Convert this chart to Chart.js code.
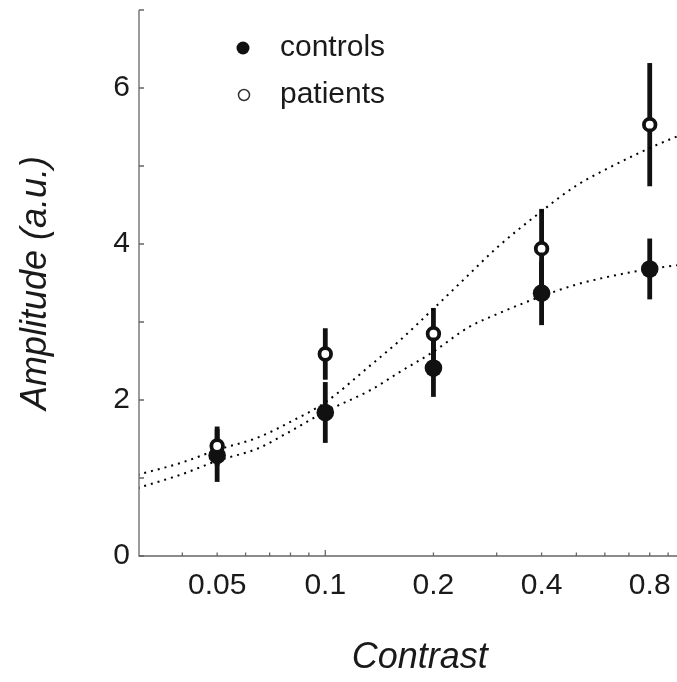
<!DOCTYPE html>
<html>
<head>
<meta charset="utf-8">
<script src="https://cdn.jsdelivr.net/npm/chart.js@4.4.1/dist/chart.umd.min.js"></script>
<style>
    html, body { margin: 0; padding: 0; background: #fff; overflow: hidden; }
    #wrap { width: 677px; height: 682px; overflow: hidden; }
</style>
</head>
<body>
<div id="wrap"><canvas id="ampChart" width="710" height="682"></canvas></div>
<script>
// measured points
const contrasts = [0.05, 0.1, 0.2, 0.4, 0.8];
const controlsMean = [1.29, 1.84, 2.41, 3.37, 3.68];
const controlsErr = [0.34, 0.39, 0.37, 0.41, 0.39];
const patientsMean = [1.41, 2.59, 2.85, 3.94, 5.53];
const patientsErr = [0.25, 0.33, 0.33, 0.51, 0.79];

// fitted curves
const fitContrast = [0.03, 0.04, 0.05, 0.065, 0.08, 0.1, 0.134, 0.16, 0.2, 0.25, 0.3, 0.4, 0.5, 0.6, 0.8, 1.0];
const controlsFit = [0.87, 1.05, 1.22, 1.38, 1.6, 1.85, 2.13, 2.35, 2.62, 2.93, 3.1, 3.33, 3.48, 3.57, 3.68, 3.74];
const patientsFit = [1.04, 1.2, 1.36, 1.52, 1.72, 1.97, 2.45, 2.75, 3.17, 3.6, 3.95, 4.42, 4.75, 4.95, 5.23, 5.42];

// axis ticks
const xTickLabels = [0.05, 0.1, 0.2, 0.4, 0.8];
const yTickLabels = [0, 2, 4, 6];
const xTickMarks = [0.04, 0.05, 0.06, 0.07, 0.08, 0.09, 0.1, 0.2, 0.3, 0.4, 0.5, 0.6, 0.7, 0.8, 0.9, 1];
const xMajorMarks = [0.1, 1];
const yTickMarks = [0, 1, 2, 3, 4, 5, 6, 7];

const seriesLabels = ["controls", "patients"];

const toPoints = (xs, ys) => xs.map((v, i) => ({ x: v, y: ys[i] }));

// draws the axis lines with inward ticks and the error bars
const matlabAxes = {
    id: "matlabAxes",
    beforeDatasetsDraw(chart) {
        const { ctx, chartArea, scales: { x, y } } = chart;
        ctx.save();
        ctx.strokeStyle = "#666";
        ctx.lineWidth = 1.3;
        ctx.beginPath();
        ctx.moveTo(chartArea.left, y.getPixelForValue(7));
        ctx.lineTo(chartArea.left, chartArea.bottom);
        ctx.lineTo(chartArea.right, chartArea.bottom);
        ctx.stroke();
        ctx.beginPath();
        yTickMarks.forEach(v => {
            const py = y.getPixelForValue(v);
            ctx.moveTo(chartArea.left, py);
            ctx.lineTo(chartArea.left + 5, py);
        });
        xTickMarks.forEach(v => {
            const px = x.getPixelForValue(v);
            const len = xMajorMarks.includes(v) ? 6 : 3.5;
            ctx.moveTo(px, chartArea.bottom);
            ctx.lineTo(px, chartArea.bottom - len);
        });
        ctx.stroke();

        ctx.strokeStyle = "#111";
        ctx.lineWidth = 4.8;
        [[controlsMean, controlsErr], [patientsMean, patientsErr]].forEach(([m, e]) => {
            contrasts.forEach((c, i) => {
                const px = x.getPixelForValue(c);
                ctx.beginPath();
                ctx.moveTo(px, y.getPixelForValue(m[i] - e[i]));
                ctx.lineTo(px, y.getPixelForValue(m[i] + e[i]));
                ctx.stroke();
            });
        });
        ctx.restore();
    }
};

// legend in the upper left of the plot
const cornerLegend = {
    id: "cornerLegend",
    afterDraw(chart) {
        const { ctx } = chart;
        ctx.save();
        ctx.fillStyle = "#111";
        ctx.beginPath();
        ctx.arc(243, 48, 6.5, 0, Math.PI * 2);
        ctx.fill();
        ctx.fillStyle = "#fff";
        ctx.strokeStyle = "#333";
        ctx.lineWidth = 1.5;
        ctx.beginPath();
        ctx.arc(244, 95, 5.5, 0, Math.PI * 2);
        ctx.fill();
        ctx.stroke();
        ctx.fillStyle = "#1a1a1a";
        ctx.font = "30px 'Liberation Sans', Arial, sans-serif";
        ctx.textBaseline = "middle";
        ctx.fillText(seriesLabels[0], 280, 48);
        ctx.fillText(seriesLabels[1], 280, 95);
        ctx.restore();
    }
};

document.addEventListener("DOMContentLoaded", function () {
    const chartElement = document.getElementById("ampChart");
    const tickFont = { family: "'Liberation Sans', Arial, sans-serif", size: 30 };
    const titleFont = { family: "'Liberation Sans', Arial, sans-serif", size: 36, style: "italic", lineHeight: 1.2 };
    const fitLine = {
        showLine: true,
        pointRadius: 0,
        borderColor: "#000",
        borderWidth: 2,
        borderDash: [2, 5],
        cubicInterpolationMode: "monotone"
    };

    new Chart(chartElement.getContext("2d"), {
        type: "scatter",
        data: {
            datasets: [
                {
                    label: seriesLabels[1],
                    data: toPoints(contrasts, patientsMean),
                    pointRadius: 5.8,
                    pointBackgroundColor: "#fff",
                    pointBorderColor: "#111",
                    pointBorderWidth: 3.8,
                    showLine: false,
                    order: 0
                },
                {
                    label: seriesLabels[0],
                    data: toPoints(contrasts, controlsMean),
                    pointRadius: 8.8,
                    pointBackgroundColor: "#111",
                    pointBorderWidth: 0,
                    showLine: false,
                    order: 1
                },
                Object.assign({ label: "patients fit", data: toPoints(fitContrast, patientsFit), order: 2 }, fitLine),
                Object.assign({ label: "controls fit", data: toPoints(fitContrast, controlsFit), order: 3 }, fitLine)
            ]
        },
        options: {
            responsive: false,
            animation: false,
            layout: { padding: { top: 10, right: 0, left: 0, bottom: 0 } },
            plugins: {
                legend: { display: false },
                tooltip: { enabled: false }
            },
            scales: {
                x: {
                    type: "logarithmic",
                    min: 0.0303,
                    max: 1.107,
                    grid: { display: false, drawTicks: false },
                    border: { display: false },
                    afterBuildTicks: scale => { scale.ticks = xTickLabels.map(v => ({ value: v })); },
                    afterFit: scale => {
                        scale.height = 126;
                        scale.paddingLeft = 0;
                        scale.paddingRight = 0;
                    },
                    ticks: {
                        autoSkip: false,
                        maxRotation: 0,
                        padding: 12,
                        color: "#1a1a1a",
                        font: tickFont,
                        callback: value => String(value)
                    },
                    title: {
                        display: true,
                        text: "Contrast",
                        color: "#1a1a1a",
                        font: titleFont,
                        padding: { top: 0, bottom: 2 }
                    }
                },
                y: {
                    min: 0,
                    max: 7,
                    grid: { display: false, drawTicks: false },
                    border: { display: false },
                    afterBuildTicks: scale => { scale.ticks = yTickLabels.map(v => ({ value: v })); },
                    afterFit: scale => {
                        scale.width = 139;
                        scale.paddingTop = 0;
                        scale.paddingBottom = 0;
                    },
                    ticks: {
                        padding: 9,
                        color: "#1a1a1a",
                        font: tickFont
                    },
                    title: {
                        display: true,
                        text: "Amplitude (a.u.)",
                        color: "#1a1a1a",
                        font: titleFont,
                        padding: { top: 14, bottom: 0 }
                    }
                }
            }
        },
        plugins: [matlabAxes, cornerLegend]
    });
});
</script>
</body>
</html>
